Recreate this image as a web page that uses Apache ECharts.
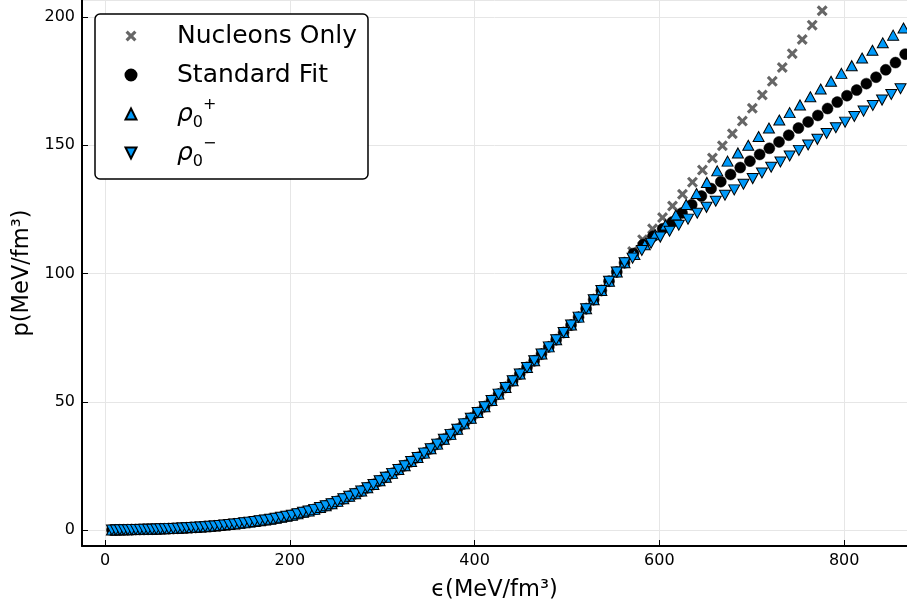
<!DOCTYPE html>
<html>
<head>
<meta charset="utf-8">
<script src="https://cdn.jsdelivr.net/npm/echarts@6/dist/echarts.min.js"></script>
<style>
html,body{margin:0;padding:0;background:#fff;}
#chart{width:907px;height:607px;}
</style>
</head>
<body>
<div id="chart"></div>
<script>
// Shared low-energy part of the EoS (all four models coincide here)
const commonEps = [7.5,11.8,16.1,20.4,24.7,29.0,33.4,37.8,42.2,46.6,51.0,55.5,60.0,64.5,69.1,73.9,78.7,83.5,88.4,93.3,98.3,103.3,108.4,113.5,118.7,123.9,129.2,134.5,139.9,145.3,150.8,156.3,161.9,167.5,173.2,178.9,184.7,190.5,196.4,202.3,208.3,214.3,220.4,226.5,232.7,238.9,245.2,251.5,257.9,264.3,270.8,277.3,283.9,290.5,297.2,303.9,310.7,317.5,324.4,331.3,338.3,345.3,352.4,359.5,366.7,373.9,381.2,388.5,395.9,403.3,410.8,418.3,425.9,433.5,441.2,448.9,456.7,464.5,472.4,480.3,488.3,496.3,504.4,512.5,520.7,528.9,537.2,545.5,553.9,562.3];
const commonP = [0.04,0.07,0.10,0.12,0.15,0.18,0.22,0.25,0.29,0.32,0.36,0.41,0.47,0.52,0.58,0.64,0.72,0.80,0.89,0.98,1.07,1.19,1.34,1.48,1.62,1.77,1.97,2.18,2.40,2.61,2.84,3.10,3.37,3.64,3.91,4.25,4.62,4.99,5.37,5.81,6.36,6.92,7.48,8.07,8.79,9.51,10.3,11.2,12.2,13.2,14.2,15.2,16.5,17.8,19.2,20.6,22.1,23.6,25.1,26.7,28.3,30.0,31.7,33.5,35.4,37.3,39.3,41.4,43.6,45.8,48.1,50.5,53.0,55.6,58.2,60.8,63.4,66.0,68.6,71.4,74.2,77.0,79.9,83.0,86.3,89.8,93.4,97.0,100.6,104.2];

// High-energy branches
const nucEps = [571.0,581.8,592.6,603.4,614.2,625.0,635.8,646.6,657.4,668.2,679.0,689.8,700.6,711.4,722.2,733.0,743.8,754.6,765.4,776.2];
const nucP   = [108.6,113.2,117.4,121.8,126.3,130.9,135.6,140.3,145.0,149.8,154.5,159.4,164.4,169.6,174.9,180.3,185.7,191.2,196.8,202.4];

const stdEps = [572,582.5,593,603.5,614,624.5,635,645.5,656,666.5,677,687.5,698,708.5,719,729.5,740,750.5,761,771.5,782,792.5,803,813.5,824,834.5,845,855.5,866,876.5];
const stdP   = [107.8,111.3,114.5,117.4,120.1,123.6,126.8,130.2,133.1,135.8,138.6,141.3,143.8,146.4,148.8,151.3,153.9,156.7,159.1,161.6,164.3,166.8,169.3,171.5,174.0,176.5,179.4,182.2,185.5,188.4];

const upEps = [573,584.2,595.4,606.6,617.8,629,640.2,651.4,662.6,673.8,685,696.2,707.4,718.6,729.8,741,752.2,763.4,774.6,785.8,797,808.2,819.4,830.6,841.8,853,864.2,875.4];
const upP   = [107.4,111.2,115.1,118.9,122.8,126.9,131.2,135.5,140.0,143.8,147.0,150.0,153.4,156.7,159.8,162.7,165.7,168.9,171.9,174.9,178.0,181.0,184.0,187.0,189.9,192.9,195.7,198.7];

const dnEps = [571,581,591,601,611,621,631,641,651,661,671,681,691,701,711,721,731,741,751,761,771,781,791,801,811,821,831,841,851,861,871];
const dnP   = [106.0,109.0,111.8,114.2,116.5,118.8,121.2,123.5,125.8,128.2,130.5,132.6,134.8,137.0,139.2,141.4,143.5,145.8,148.0,150.1,152.3,154.6,156.8,159.0,161.2,163.3,165.5,167.6,169.8,172.0,174.2];

const seriesNames = ['Nucleons Only', 'Standard Fit', 'ρ0+', 'ρ0−'];
const legendRich = {
  'Nucleons Only': '{n|Nucleons Only}',
  'Standard Fit': '{n|Standard Fit}',
  'ρ0+': '{r|ρ}{sub|0}{sup|+}',
  'ρ0−': '{r|ρ}{sub|0}{sup|−}'
};

function zip(xs, ys) { return xs.map((x, i) => [x, ys[i]]); }
const FONT = 'DejaVu Sans';
const BLUE = '#009AFA';
const XPATH = 'path://M0,2L2,0L5,3L8,0L10,2L7,5L10,8L8,10L5,7L2,10L0,8L3,5Z';
const UPTRI = 'path://M5,0L10,10L0,10Z';
const DNTRI = 'path://M0,0L10,0L5,10Z';

const chart = echarts.init(document.getElementById('chart'), null, {renderer: 'canvas'});
chart.setOption({
  animation: false,
  backgroundColor: '#fff',
  textStyle: {fontFamily: FONT},
  grid: {left: 82, right: 0, top: 0, bottom: 60, containLabel: false},
  xAxis: {
    type: 'value', min: -24.9, max: 868,
    name: 'ϵ(MeV/fm³)', nameLocation: 'middle', nameGap: 33,
    nameTextStyle: {fontSize: 22.5, color: '#000', fontFamily: FONT},
    axisLine: {show: true, onZero: false, lineStyle: {color: '#000', width: 2}},
    axisTick: {show: true, inside: true, length: 6, lineStyle: {color: '#000', width: 1}},
    axisLabel: {fontSize: 16, color: '#000', margin: 7, fontFamily: FONT, showMinLabel: false, showMaxLabel: false},
    splitLine: {show: true, lineStyle: {color: '#e6e6e6', width: 1}}
  },
  yAxis: {
    type: 'value', min: -6.2, max: 206.6,
    name: 'p(MeV/fm³)', nameLocation: 'middle', nameGap: 47,
    nameTextStyle: {fontSize: 22.5, color: '#000', fontFamily: FONT},
    axisLine: {show: true, onZero: false, lineStyle: {color: '#000', width: 2}},
    axisTick: {show: true, inside: true, length: 6, lineStyle: {color: '#000', width: 1}},
    axisLabel: {fontSize: 16, color: '#000', margin: 7, padding: [4, 0, 0, 0], fontFamily: FONT, showMinLabel: false, showMaxLabel: false},
    splitLine: {show: true, lineStyle: {color: '#e6e6e6', width: 1}}
  },
  legend: {
    orient: 'vertical', left: 95, top: 14,
    padding: [5, 11, 9, 29.5],
    itemWidth: 11, itemHeight: 11, itemGap: 5,
    backgroundColor: '#fff', borderColor: '#000', borderWidth: 1.5, borderRadius: 5,
    data: seriesNames,
    formatter: name => legendRich[name],
    textStyle: {
      fontFamily: FONT, color: '#000', fontSize: 25, lineHeight: 34,
      rich: {
        n: {fontSize: 25, fontFamily: FONT, color: '#000', lineHeight: 34, padding: [0, 0, 0, 35.5]},
        r: {fontSize: 25, fontFamily: FONT, fontStyle: 'italic', color: '#000', lineHeight: 34, padding: [0, 0, 0, 35.5]},
        sub: {fontSize: 16, fontFamily: FONT, color: '#000', lineHeight: 14, verticalAlign: 'bottom'},
        sup: {fontSize: 16, fontFamily: FONT, color: '#000', lineHeight: 30, verticalAlign: 'top'}
      }
    }
  },
  series: [
    {
      name: seriesNames[0], type: 'scatter', silent: true,
      symbol: XPATH, symbolSize: 11,
      itemStyle: {color: '#666666', opacity: 1},
      data: zip(commonEps, commonP).concat(zip(nucEps, nucP))
    },
    {
      name: seriesNames[1], type: 'scatter', silent: true,
      symbol: 'circle', symbolSize: 11,
      itemStyle: {color: '#000', borderColor: '#000', borderWidth: 0.5, opacity: 1},
      data: zip(commonEps, commonP).concat(zip(stdEps, stdP))
    },
    {
      name: seriesNames[2], type: 'scatter', silent: true,
      symbol: UPTRI, symbolSize: [11, 10],
      itemStyle: {color: BLUE, borderColor: '#000', borderWidth: 1, opacity: 1},
      data: zip(commonEps, commonP).concat(zip(upEps, upP))
    },
    {
      name: seriesNames[3], type: 'scatter', silent: true,
      symbol: DNTRI, symbolSize: [11, 10],
      itemStyle: {color: BLUE, borderColor: '#000', borderWidth: 1, opacity: 1},
      data: zip(commonEps, commonP).concat(zip(dnEps, dnP))
    }
  ]
});
</script>
</body>
</html>
